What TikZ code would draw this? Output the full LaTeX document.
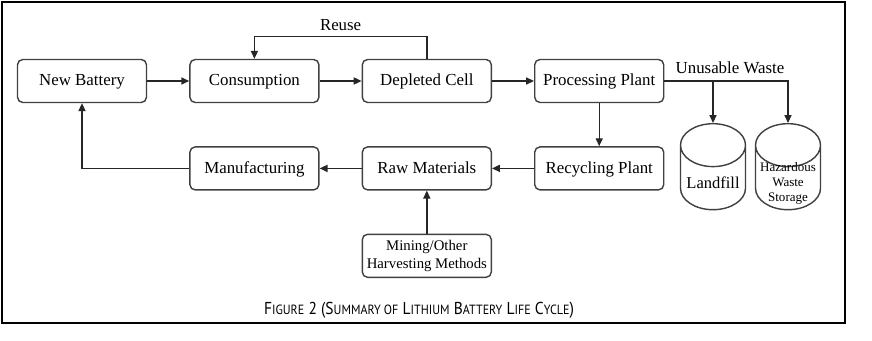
\documentclass[tikz,border=0pt]{standalone}
\usepackage{fontspec}
\setmainfont{Liberation Serif}
\newfontfamily\capfont[FakeStretch=0.9]{PT Sans}
\usetikzlibrary{positioning,shapes.geometric,arrows.meta,calc}

\tikzset{
    stage/.style={draw=black!75, line width=0.8pt, rounded corners=3pt,
        minimum width=2.58cm, minimum height=0.86cm, inner sep=2pt,
        text height=1.5ex, text depth=0.3ex,
        font=\fontsize{9.6}{11}\selectfont, align=center},
    store/.style={draw=black!75, line width=0.8pt, cylinder, shape border rotate=90,
        aspect=0.66, text width=1.2cm, inner xsep=0.05cm, inner ysep=0pt,
        minimum width=1.3cm, minimum height=1.72cm, anchor=north},
    inside/.style={anchor=center, yshift=0.56cm, align=center},
    lbl/.style={font=\fontsize{9.6}{11}\selectfont},
    flow/.style={->, line width=0.8pt, draw=black!85},
    >={Triangle[length=4.5pt,width=4pt]}
}
\newcommand{\capsc}[2]{{\fontsize{9.8}{11}\selectfont #1}{\fontsize{7.6}{9}\selectfont #2}}

\begin{document}
\begin{tikzpicture}
    \useasboundingbox (0,0) rectangle (17.44,-6.82);
    \draw[line width=1.2pt] (0.04,-0.04) rectangle (16.9,-6.46);

    % top row
    \node[stage] (newbat) at (1.64,-1.62) {New Battery};
    \node[stage, right=0.84cm of newbat] (cons) {Consumption};
    \node[stage, right=0.84cm of cons] (depl) {Depleted Cell};
    \node[stage, right=0.84cm of depl] (proc) {Processing Plant};

    % bottom row
    \node[stage, below=0.86cm of proc] (recy) {Recycling Plant};
    \node[stage, below=0.86cm of depl] (raw) {Raw Materials};
    \node[stage, below=0.86cm of cons] (manu) {Manufacturing};
    \node[stage, below=0.86cm of raw, text height=, text depth=,
        font=\fontsize{8.4}{10.2}\selectfont] (mine) {Mining/Other\\Harvesting Methods};

    % waste storage
    \node[store, label={[inside, font=\fontsize{9.4}{11}\selectfont]south:Landfill}] (fill) at (14.26,-2.46) {};
    \node[store, label={[inside, font=\fontsize{7.4}{8.6}\selectfont, yshift=-0.02cm]south:{Hazardous\\Waste\\Storage}}] (haz) at (15.76,-2.46) {};

    \draw[flow] (newbat) -- (cons);
    \draw[flow] (cons) -- (depl);
    \draw[flow] (depl) -- (proc);
    \draw[flow] (proc) -- (recy);
    \draw[flow] (recy) -- (raw);
    \draw[flow] (raw) -- (manu);
    \draw[flow] (mine) -- (raw);
    \draw[flow] (manu.west) -| (newbat.south);
    \draw[flow] (depl.north) -- ++(0,0.44) -| (cons.north) node[lbl, pos=0.25, above] {Reuse};
    \draw[flow] (proc.east) -| (fill.north);
    \draw[flow] (proc.east) -| (haz.north);
    \node[lbl, above right=0.02cm and 0.1cm of proc.east] (waste) {Unusable Waste};

    \node[font=\capfont] (cap) at (8.38,-6.2) {\capsc{F}{IGURE} \capsc{2 (S}{UMMARY OF} \capsc{L}{ITHIUM} \capsc{B}{ATTERY} \capsc{L}{IFE} \capsc{C}{YCLE})};
\end{tikzpicture}
\end{document}
